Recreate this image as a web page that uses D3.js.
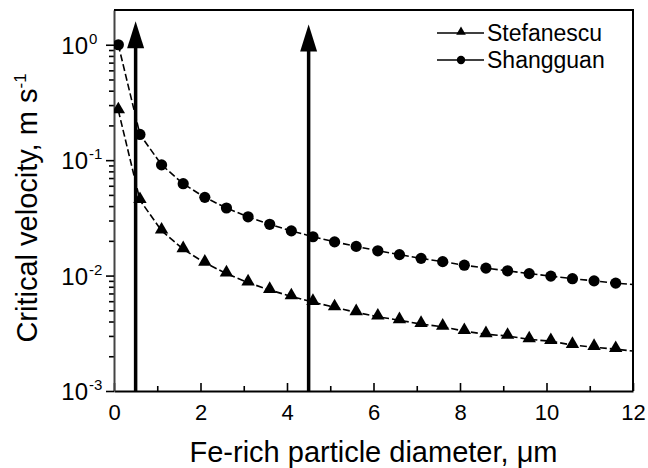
<!DOCTYPE html>
<html>
<head>
<meta charset="utf-8">
<script src="https://cdnjs.cloudflare.com/ajax/libs/d3/7.8.5/d3.min.js"></script>
<style>
	body { margin: 0; background: #fff; }
	svg text { font-family: "Liberation Sans", Arial, sans-serif; fill: #000; }
</style>
</head>
<body>
<div id="figure"></div>
<script>
var w = 648;
var h = 468;
var margin = {
	top: 10,
	right: 15,
	bottom: 77,
	left: 114
};
var chartWidth = w - margin.left - margin.right;
var chartHeight = h - margin.top - margin.bottom;

// particle diameter (um) of each plotted point; the last one only continues the line to the frame
var diameters = [0.1, 0.6, 1.1, 1.6, 2.1, 2.6, 3.1, 3.6, 4.1, 4.6, 5.1, 5.6, 6.1, 6.6, 7.1, 7.6, 8.1, 8.6, 9.1, 9.6, 10.1, 10.6, 11.1, 11.6, 12.1];
var stefanescu = [0.27, 0.045, 0.0245, 0.0169, 0.0129, 0.0104, 0.0087, 0.0075, 0.0066, 0.0059, 0.0053, 0.0048, 0.0044, 0.0041, 0.0038, 0.0036, 0.0033, 0.0031, 0.0030, 0.0028, 0.0027, 0.0025, 0.0024, 0.0023, 0.0022];
var shangguan = [1.0, 0.167, 0.091, 0.0625, 0.0476, 0.0385, 0.0323, 0.0278, 0.0244, 0.0217, 0.0196, 0.0179, 0.0164, 0.0152, 0.0141, 0.0132, 0.0123, 0.0116, 0.0110, 0.0104, 0.0099, 0.0094, 0.0090, 0.0086, 0.0083];
var seriesNames = ["Stefanescu", "Shangguan"];
var arrowX = [0.5, 4.5];
var arrowTop = [1.6, 1.5];
var xTicks = [0, 2, 4, 6, 8, 10, 12];
var xMinorTicks = [1, 3, 5, 7, 9, 11];
var yExponents = [-3, -2, -1, 0];

var svg = d3.select('#figure')
	.append('svg')
	.attr('width', w)
	.attr('height', h);

var chart = svg.append('g')
	.attr('transform', 'translate(' + margin.left + ',' + margin.top + ')');

var xScale = d3.scaleLinear()
	.domain([0, 12])
	.range([0, chartWidth]);

var yScale = d3.scaleLog()
	.domain([0.001, 2])
	.range([chartHeight, 0]);

svg.append('defs').append('clipPath')
	.attr('id', 'plotClip')
	.append('rect')
	.attr('width', chartWidth)
	.attr('height', chartHeight);

//Minor ticks
var yMinor = [];
yExponents.forEach(function(e){
	for (var k = 2; k <= 9; k++) {
		var v = k * Math.pow(10, e);
		if (v < 1.99) yMinor.push(v);
	}
});

chart.append('g')
	.attr('class', 'yMinor')
	.call(d3.axisLeft(yScale).tickValues(yMinor).tickSize(5).tickFormat(''))
	.call(function(g){ g.select('.domain').remove(); });

chart.append('g')
	.attr('class', 'xMinor')
	.attr('transform', 'translate(0,' + chartHeight + ')')
	.call(d3.axisBottom(xScale).tickValues(xMinorTicks).tickSizeInner(-5).tickSizeOuter(0).tickFormat(''))
	.call(function(g){ g.select('.domain').remove(); });

//Axes
var xAxis = d3.axisBottom(xScale)
	.tickValues(xTicks)
	.tickSizeInner(-8)
	.tickSizeOuter(0)
	.tickPadding(13)
	.tickFormat(d3.format('d'));

var xg = chart.append('g')
	.attr('transform', 'translate(0,' + chartHeight + ')')
	.call(xAxis);
xg.selectAll('text').attr('font-size', 22);

var yAxis = d3.axisLeft(yScale)
	.tickValues(yExponents.map(function(e){ return Math.pow(10, e); }))
	.tickSizeInner(8)
	.tickSizeOuter(0)
	.tickPadding(0)
	.tickFormat('');

var yg = chart.append('g').call(yAxis);
yg.selectAll('.tick').each(function(d, i){
	d3.select(this).append('text')
		.attr('x', -26)
		.attr('dy', '0.36em')
		.attr('text-anchor', 'end')
		.attr('font-size', 24)
		.text('10');
	d3.select(this).append('text')
		.attr('x', -25)
		.attr('dy', '-0.1em')
		.attr('text-anchor', 'start')
		.attr('font-size', 15)
		.text(String(Math.round(Math.log10(d))));
});

chart.selectAll('.domain, .tick line')
	.attr('stroke', '#000')
	.attr('stroke-width', 1.6);
yg.select('.domain').attr('stroke', '#444').attr('stroke-width', 2);
xg.select('.domain').attr('stroke-width', 2);

//Frame (top and right)
chart.append('path')
	.attr('d', 'M0,0H' + chartWidth + 'V' + chartHeight)
	.attr('fill', 'none')
	.attr('stroke', '#000')
	.attr('stroke-width', 2);

//Arrows
var arrows = chart.append('g').attr('class', 'arrows');
arrows.selectAll('line')
	.data(arrowX)
	.enter()
	.append('line')
	.attr('x1', function(d){ return xScale(d); })
	.attr('x2', function(d){ return xScale(d); })
	.attr('y1', chartHeight)
	.attr('y2', function(d, i){ return yScale(arrowTop[i]) + 20; })
	.attr('stroke', '#000')
	.attr('stroke-width', 3.5);
arrows.selectAll('path')
	.data(arrowX)
	.enter()
	.append('path')
	.attr('d', function(d, i){
		var x = xScale(d), y = yScale(arrowTop[i]);
		return 'M' + x + ',' + y + 'L' + (x + 8.5) + ',' + (y + 27) + 'L' + (x - 8.5) + ',' + (y + 27) + 'Z';
	})
	.attr('fill', '#000');

//Series
var series = [stefanescu, shangguan];
var triangle = d3.symbol().type(d3.symbolTriangle).size(78);
var line = d3.line()
	.x(function(d){ return xScale(d[0]); })
	.y(function(d){ return yScale(d[1]); });

var plot = chart.append('g').attr('clip-path', 'url(#plotClip)');

series.forEach(function(values, s){
	var pts = diameters.map(function(d, i){ return [d, values[i]]; });
	plot.append('path')
		.datum(pts)
		.attr('d', line)
		.attr('fill', 'none')
		.attr('stroke', '#000')
		.attr('stroke-width', 1.6)
		.attr('stroke-dasharray', '7,3');
	var marks = plot.selectAll('.m' + s)
		.data(pts.filter(function(p){ return p[0] < 12; }))
		.enter();
	if (s === 0) {
		marks.append('path')
			.attr('class', 'm' + s)
			.attr('d', triangle)
			.attr('transform', function(d){ return 'translate(' + xScale(d[0]) + ',' + (yScale(d[1]) - 1) + ')'; })
			.attr('fill', '#000');
	} else {
		marks.append('circle')
			.attr('class', 'm' + s)
			.attr('cx', function(d){ return xScale(d[0]); })
			.attr('cy', function(d){ return yScale(d[1]); })
			.attr('r', 5.6)
			.attr('fill', '#000');
	}
});

//Legend
var legend = chart.append('g')
	.attr('transform', 'translate(' + (437 - margin.left) + ',' + (33 - margin.top) + ')');
seriesNames.forEach(function(name, i){
	var row = legend.append('g').attr('transform', 'translate(0,' + (i * 27) + ')');
	row.append('line')
		.attr('x1', 0).attr('x2', 47)
		.attr('stroke', '#000').attr('stroke-width', 1.5);
	if (i === 0) {
		row.append('path')
			.attr('d', d3.symbol().type(d3.symbolTriangle).size(40))
			.attr('transform', 'translate(24,-1)')
			.attr('fill', '#000');
	} else {
		row.append('circle').attr('cx', 24).attr('r', 4.2).attr('fill', '#000');
	}
	row.append('text')
		.attr('x', 50)
		.attr('dy', '0.36em')
		.attr('font-size', 23)
		.text(name);
});

//Axis titles
chart.append('text')
	.attr('x', chartWidth / 2)
	.attr('y', 462 - margin.top)
	.attr('text-anchor', 'middle')
	.attr('font-size', 29)
	.text('Fe-rich particle diameter, \u03bcm');

var yTitle = chart.append('text')
	.attr('transform', 'translate(' + (37 - margin.left) + ',' + (208 - margin.top) + ') rotate(-90)')
	.attr('text-anchor', 'middle')
	.attr('font-size', 29);
yTitle.append('tspan').text('Critical velocity, m s');
yTitle.append('tspan').attr('dy', -11).attr('font-size', 17).text('-1');
</script>
</body>
</html>
